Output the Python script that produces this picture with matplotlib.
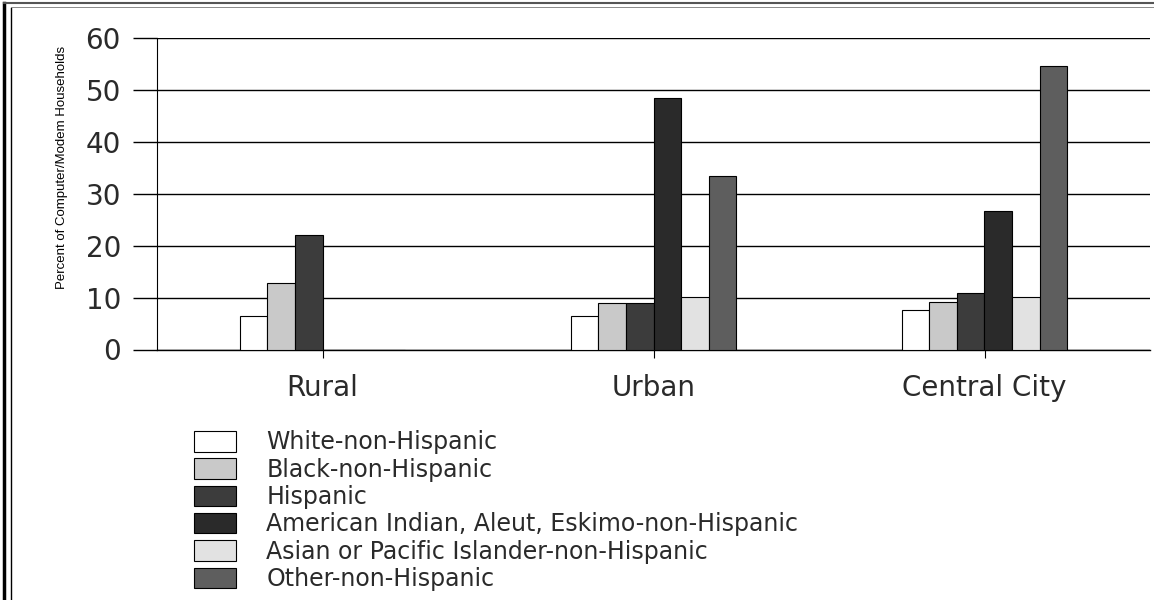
import numpy as np
import matplotlib
matplotlib.use('Agg')
import matplotlib.pyplot as plt
from matplotlib.lines import Line2D

categories = ['Rural', 'Urban', 'Central City']
series_names = ['White-non-Hispanic', 'Black-non-Hispanic', 'Hispanic',
                'American Indian, Aleut, Eskimo-non-Hispanic',
                'Asian or Pacific Islander-non-Hispanic', 'Other-non-Hispanic']
white = [6.4, 6.4, 7.6]
black = [12.9, 9.0, 9.2]
hispanic = [22.0, 9.0, 10.9]
am_indian = [0, 48.4, 26.6]
asian = [0, 10.1, 10.1]
other = [0, 33.5, 54.6]
yticks = [0, 10, 20, 30, 40, 50, 60]

colors = ['#ffffff', '#c9c9c9', '#3c3c3c', '#2a2a2a', '#e2e2e2', '#5e5e5e']

fig = plt.figure(figsize=(11.54, 6.0), dpi=100)
ax = fig.add_axes([157/1154, 1 - 349.5/600, (1150 - 157)/1154, (349.5 - 38)/600])

values = [white, black, hispanic, am_indian, asian, other]
x = np.arange(len(categories))
w = 0.5 / 6
handles = []
for i, (vals, name) in enumerate(zip(values, series_names)):
    b = ax.bar(x - 0.25 + w * (i + 0.5), vals, w, color=colors[i],
               edgecolor='black', linewidth=0.8, label=name, zorder=3)
    handles.append(b)

ax.set_xlim(-0.5, 2.5)
ax.set_ylim(0, 60)
ax.set_yticks(yticks)
ax.set_yticklabels([str(t) for t in yticks], fontsize=20, color='#2a2a2a')
ax.tick_params(axis='y', length=17, width=1, direction='out', pad=9)
ax.set_xticks(x)
ax.set_xticklabels(categories, fontsize=20, color='#2a2a2a')
ax.tick_params(axis='x', length=6, width=0.8, direction='out', pad=12)
ax.yaxis.grid(True, color='black', linewidth=1, zorder=0)
ax.set_axisbelow(True)
for s in ['top', 'right']:
    ax.spines[s].set_visible(False)
ax.spines['left'].set_linewidth(0.8)
ax.spines['bottom'].set_linewidth(1)

ax.set_ylabel('Percent of Computer/Modem Households',
              family=['Liberation Sans Narrow', 'Liberation Sans', 'DejaVu Sans'],
              fontsize=9.5)
ax.yaxis.set_label_coords(-0.09, 0.583)

fig.legend(handles=handles, loc='upper left', bbox_to_anchor=(185/1154, 1 - 421/600),
           frameon=False, fontsize=17, handlelength=1.75, handleheight=0.95,
           handletextpad=1.3, labelspacing=0.14, borderaxespad=0,
           labelcolor='#2a2a2a')

# scanned page frame
fig.add_artist(Line2D([4/1154, 4/1154], [0, 1 - 3/600], color='black', lw=2.5))
fig.add_artist(Line2D([11/1154, 11/1154], [0, 1 - 8/600], color='black', lw=1))
fig.add_artist(Line2D([4/1154, 1], [1 - 3/600, 1 - 3/600], color='#555555', lw=1.5))
fig.add_artist(Line2D([11/1154, 1], [1 - 7/600, 1 - 7/600], color='#777777', lw=0.6))

fig.savefig('out.png', dpi=100)
